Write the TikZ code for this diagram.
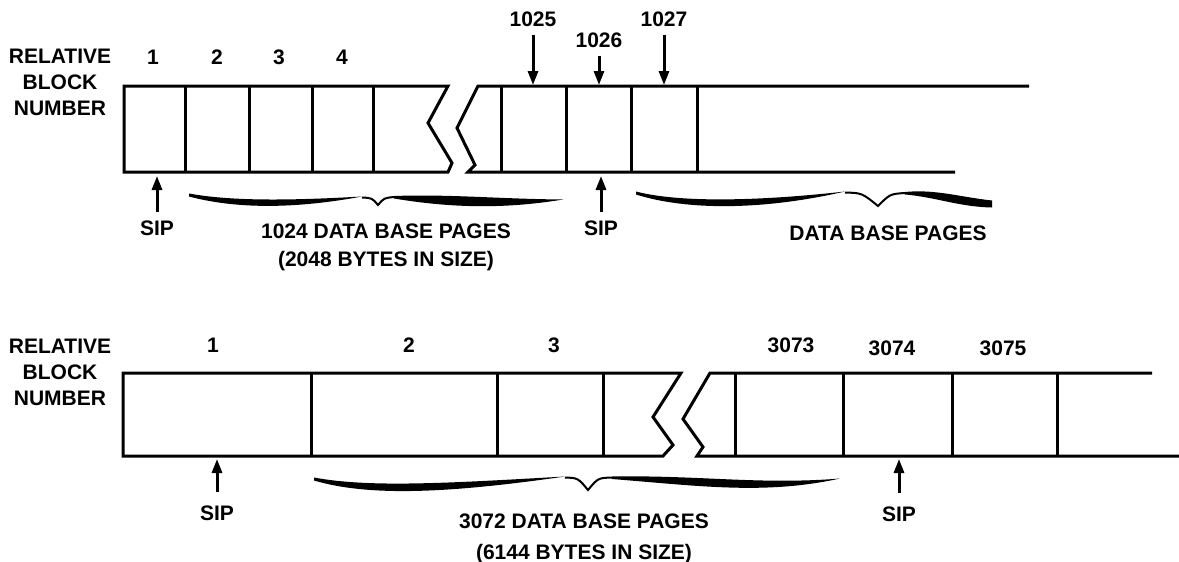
\documentclass[tikz,border=0pt]{standalone}
\usepackage{fontspec}
\setmainfont{Liberation Sans}
\usetikzlibrary{arrows.meta}

\begin{document}
\begin{tikzpicture}[x=1pt, y=-1pt,
    blk/.style={line width=3pt, line join=miter},
    arr/.style={-{Triangle[length=14pt,width=10pt]}, line width=3pt, shorten <=7pt},
    lbl/.style={font=\fontsize{21}{26}\selectfont\bfseries, inner sep=1pt, align=center},
    tip/.style={line width=2pt}]
\useasboundingbox (0,0) rectangle (1179,562);

% upper file: 2048 byte pages
\draw[blk] (448,86) -- (124,86) -- (124,172) -- (448,172) -- (452,163) -- (428,123) -- cycle;
\draw[blk] (1029,86) -- (478,86) -- (457,128) -- (475,165) -- (468,172) -- (955,172);
\foreach \x in {185,249,312,373,501,566,631,697}
    \draw[blk] (\x,86) -- (\x,172);

\node[lbl, anchor=north] (relA) at (60,48) {RELATIVE\\BLOCK\\NUMBER};
\foreach \x/\n in {153/1,217/2,279/3,342/4}
    \node[lbl] (numA\n) at (\x,57) {\n};
\node[lbl] (numA1025) at (533,19) {1025};
\node[lbl] (numA1026) at (599,40) {1026};
\node[lbl] (numA1027) at (664,19) {1027};
\coordinate (topA1025) at (533,85);
\coordinate (topA1026) at (599,85);
\coordinate (topA1027) at (664,85);
\draw[arr] (numA1025) -- (topA1025);
\draw[arr] (numA1026) -- (topA1026);
\draw[arr] (numA1027) -- (topA1027);

\node[lbl] (sipA1) at (157,228) {SIP};
\node[lbl] (sipA2) at (601,228) {SIP};
\coordinate (botA1) at (157,176);
\coordinate (botA2) at (601,176);
\draw[arr] (sipA1) -- (botA1);
\draw[arr] (sipA2) -- (botA2);

\fill (189,193.5) .. controls (235,202) and (300,200) .. (362,196.5)
    .. controls (300,208) and (240,210) .. (189,196.5) -- cycle;
\draw[tip] (362,197.5) .. controls (372,198) .. (378,205) .. controls (384,198) .. (394,197);
\fill (394,196) .. controls (450,194) and (500,199) .. (563,199.5)
    .. controls (500,210) and (445,207) .. (394,198.5) -- cycle;
\node[lbl, anchor=north] (pagesA) at (386,223) {1024 DATA BASE PAGES\\[2pt](2048 BYTES IN SIZE)};

\fill (636,191.5) .. controls (680,203) and (760,201) .. (845,191.5)
    .. controls (760,211) and (685,210) .. (636,194.5) -- cycle;
\draw[tip] (845,192.5) .. controls (862,193) .. (878,206) .. controls (890,194) .. (905,193);
\fill (905,192) .. controls (935,189) and (960,197) .. (992,200.5) -- (992,207.5)
    .. controls (960,207) and (935,197) .. (905,194.5) -- cycle;
\node[lbl] (pagesA2) at (888,233) {DATA BASE PAGES};

% lower file: 6144 byte pages
\draw[blk] (681,373) -- (123,373) -- (123,456) -- (663,456) -- (673,445) -- (653,417) -- cycle;
\draw[blk] (1152,373) -- (710,373) -- (683,419) -- (703,447) -- (697,456) -- (1179,456);
\foreach \x in {311,497,603,735,843,952,1057}
    \draw[blk] (\x,373) -- (\x,456);

\node[lbl, anchor=north] (relB) at (60,338) {RELATIVE\\BLOCK\\NUMBER};
\foreach \x/\n in {213/1,409/2,554/3,791/3073}
    \node[lbl] (numB\n) at (\x,345) {\n};
\node[lbl] (numB3074) at (892,348) {3074};
\node[lbl] (numB3075) at (1003,348) {3075};

\node[lbl] (sipB1) at (217,513) {SIP};
\node[lbl] (sipB2) at (899,514) {SIP};
\coordinate (botB1) at (217,459);
\coordinate (botB2) at (899,459);
\draw[arr, shorten <=12pt] (sipB1) -- (botB1);
\draw[arr, shorten <=12pt] (sipB2) -- (botB2);

\fill (314,477.5) .. controls (370,488) and (450,483) .. (565,476.5)
    .. controls (450,493) and (370,497) .. (314,480.5) -- cycle;
\draw[tip] (565,477.5) .. controls (578,478) .. (588,490) .. controls (598,478) .. (612,477.5);
\fill (612,476.5) .. controls (700,475) and (760,485) .. (840,478.5)
    .. controls (765,495) and (700,486) .. (612,479) -- cycle;
\node[lbl, anchor=north] (pagesB) at (584,513) {3072 DATA BASE PAGES\\[5pt](6144 BYTES IN SIZE)};
\end{tikzpicture}
\end{document}
